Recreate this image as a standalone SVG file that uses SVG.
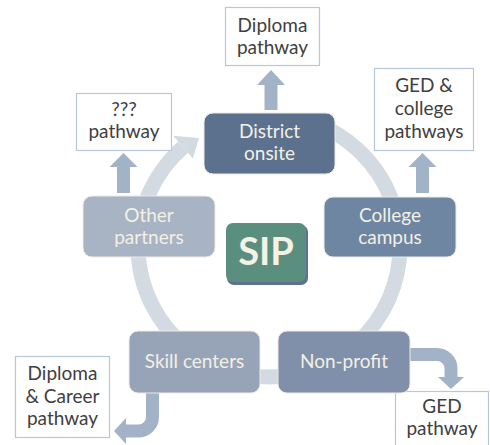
<svg xmlns="http://www.w3.org/2000/svg" width="490" height="445" viewBox="0 0 490 445">
<style>
.node{stroke:#eceae2;stroke-width:1}
.nt{font-family:Lato,"Liberation Sans",sans-serif;font-size:19px;fill:#f3f0e6;text-anchor:middle}
.box{fill:#ffffff;stroke:#b7c7da;stroke-width:1.2}
.bt{font-family:Lato,"Liberation Sans",sans-serif;font-size:19px;fill:#404040;text-anchor:middle}
.arr{fill:#a3b3c7}
.barr{fill:none;stroke:#a3b3c7;stroke-width:13}
.ring{fill:none;stroke:#d4dae2;stroke-width:15}
</style>
<rect width="490" height="445" fill="#ffffff"/>
<g id="connectors">
  <path class="ring" d="M313.8,122.9 A131,131 0 1 1 183.1,147.1"/>
  <polygon fill="#d4dae2" points="173.2,135.8 199,138 192.9,158.5"/>
  <polygon class="arr" points="264.5,110 264.5,85 257,85 271,70 285,85 277.5,85 277.5,110"/>
  <polygon class="arr" points="416,193 416,167 408.5,167 422.5,153 436.5,167 429,167 429,193"/>
  <polygon class="arr" points="117,193 117,167 109.5,167 123.5,153 137.5,167 130,167 130,193"/>
  <path class="barr" d="M152.5,393 V417 A14,14 0 0 1 138.5,431 H125"/>
  <polygon class="arr" points="126,418 114,431 126,444"/>
  <path class="barr" d="M410,354.5 H437 A14,14 0 0 1 451,368.5 V378"/>
  <polygon class="arr" points="438,377 464,377 451,389"/>
</g>
<g id="diploma-pathway">
  <rect class="box" x="225.5" y="7.5" width="94" height="58"/>
  <text class="bt" x="272.5" y="32">Diploma</text>
  <text class="bt" x="272.5" y="54">pathway</text>
</g>
<g id="unknown-pathway">
  <rect class="box" x="76.5" y="93.5" width="95" height="57"/>
  <text class="bt" x="124" y="116">???</text>
  <text class="bt" x="124" y="138">pathway</text>
</g>
<g id="ged-college-pathways">
  <rect class="box" x="374.5" y="68.5" width="99" height="82"/>
  <text class="bt" x="424" y="92">GED &amp;</text>
  <text class="bt" x="424" y="115">college</text>
  <text class="bt" x="424" y="138">pathways</text>
</g>
<g id="diploma-career-pathway">
  <rect class="box" x="15.5" y="356.5" width="94" height="81"/>
  <text class="bt" x="62.5" y="380">Diploma</text>
  <text class="bt" x="62.5" y="403">&amp; Career</text>
  <text class="bt" x="62.5" y="425">pathway</text>
</g>
<g id="ged-pathway">
  <rect class="box" x="395.5" y="391.5" width="93" height="60"/>
  <text class="bt" x="442" y="413">GED</text>
  <text class="bt" x="442" y="435">pathway</text>
</g>
<g id="district-onsite">
  <rect class="node" x="204" y="113" width="131" height="61" rx="9" fill="#5b718e"/>
  <text class="nt" x="269.5" y="138">District</text>
  <text class="nt" x="269.5" y="160">onsite</text>
</g>
<g id="college-campus">
  <rect class="node" x="324" y="197" width="132" height="60" rx="9" fill="#6e86a2"/>
  <text class="nt" x="390" y="222">College</text>
  <text class="nt" x="390" y="244">campus</text>
</g>
<g id="other-partners">
  <rect class="node" x="83" y="196" width="132" height="61" rx="9" fill="#a8b3c3"/>
  <text class="nt" x="149" y="222">Other</text>
  <text class="nt" x="149" y="244">partners</text>
</g>
<g id="skill-centers">
  <rect class="node" x="129" y="331" width="131" height="62" rx="9" fill="#97a4b7"/>
  <text class="nt" x="194.5" y="368">Skill centers</text>
</g>
<g id="non-profit">
  <rect class="node" x="278" y="331" width="132" height="62" rx="9" fill="#8090aa"/>
  <text class="nt" x="344" y="368">Non-profit</text>
</g>
<g id="sip">
  <rect x="227" y="225" width="81" height="60" rx="7" fill="#5e7190"/>
  <rect x="226" y="223" width="80" height="59" rx="7" fill="#5a8f80"/>
  <text x="266" y="265" font-family="Lato,'Liberation Sans',sans-serif" font-size="38" font-weight="bold" fill="#f5f1e4" text-anchor="middle">SIP</text>
</g>
</svg>
